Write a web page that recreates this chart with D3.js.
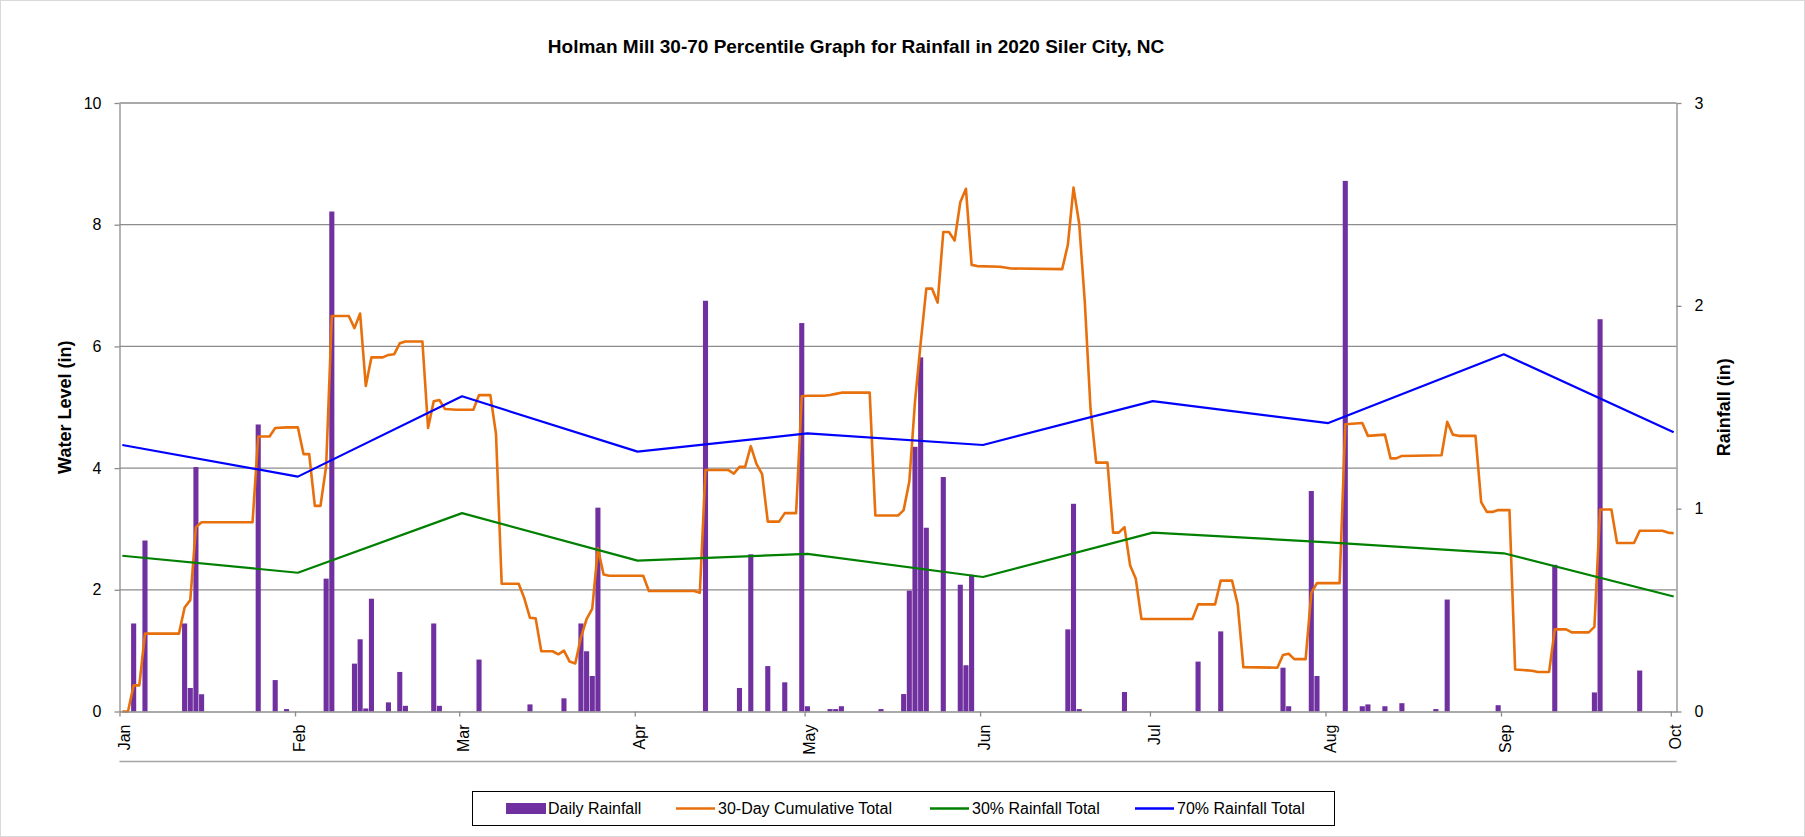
<!DOCTYPE html>
<html>
<head>
<meta charset="utf-8">
<script src="https://cdn.jsdelivr.net/npm/d3@7"></script>
<style>
  body { margin: 0; background: #fff; }
  svg { display: block; font-family: 'Liberation Sans', Arial, sans-serif; }
</style>
</head>
<body>
<div class="chart"></div>
<script>
// daily rainfall (in), day = days after Jan 1 2020
var rainDay = [2, 4, 11, 12, 13, 14, 24, 27, 29, 36, 37, 41, 42, 43, 44, 47, 49, 50, 55, 56,
  63, 72, 78, 81, 82, 83, 84, 103, 109, 111, 114, 117, 120, 121, 125, 126, 127, 134,
  138, 139, 140, 141, 142, 145, 148, 149, 150, 167, 168, 169, 177, 190, 194, 205, 206,
  210, 211, 216, 219, 220, 223, 226, 232, 234, 243, 253, 260, 261, 268]
var rainAmt = [0.434, 0.843, 0.434, 0.116, 1.205, 0.085, 1.415, 0.155, 0.012, 0.655, 2.465,
  0.236, 0.356, 0.015, 0.556, 0.045, 0.195, 0.028, 0.434, 0.028,
  0.256, 0.035, 0.065, 0.434, 0.297, 0.175, 1.005, 2.025, 0.116, 0.775, 0.224, 0.144,
  1.915, 0.026, 0.012, 0.012, 0.026, 0.012,
  0.086, 0.596, 1.305, 1.746, 0.906, 1.156, 0.625, 0.228, 0.674, 0.405, 1.024, 0.012,
  0.096, 0.246, 0.395, 0.216, 0.026,
  1.087, 0.175, 2.616, 0.026, 0.035, 0.026, 0.041, 0.012, 0.552, 0.031, 0.723, 0.094,
  1.934, 0.202]

// 30-day cumulative total (in), corners of the line
var cumDay = [0, 1, 2, 3, 4, 10, 11, 12, 13, 14, 23, 24, 26, 27, 29, 31, 32, 33, 34, 35,
  36, 37, 40, 41, 42, 43, 44, 46, 47, 48, 49, 50, 53, 54, 55, 56, 57, 59, 62, 63, 65, 66,
  67, 70, 71, 72, 73, 74, 76, 77, 78, 79, 80, 81, 82, 83, 84, 85, 86, 92, 93, 101, 102,
  103, 107, 108, 109, 110, 111, 112, 113, 114, 116, 117, 119, 120, 121, 124, 125, 126,
  127, 132, 133, 137, 138, 139, 140, 141, 142, 143, 144, 145, 146, 147, 148, 149, 150,
  151, 155, 157, 166, 167, 168, 169, 170, 171, 172, 174, 175, 176, 177, 178, 179, 180,
  189, 190, 193, 194, 196, 197, 198, 204, 205, 206, 207, 209, 210, 211, 215, 216, 219,
  220, 223, 224, 225, 226, 233, 234, 235, 236, 239, 240, 241, 242, 243, 245, 246, 249,
  250, 252, 253, 255, 256, 259, 260, 261, 263, 264, 267, 268, 272, 273, 274]
var cumTotal = [0, 0, 0.43, 0.43, 1.28, 1.28, 1.71, 1.83, 3.03, 3.11, 3.11, 4.52, 4.52,
  4.66, 4.67, 4.67, 4.23, 4.23, 3.38, 3.38,
  4.03, 6.50, 6.50, 6.30, 6.54, 5.35, 5.82, 5.82, 5.86, 5.87, 6.05, 6.08, 6.08, 4.66, 5.10,
  5.12, 4.97, 4.96, 4.96, 5.20, 5.20, 4.56,
  2.10, 2.10, 1.86, 1.54, 1.53, 0.99, 0.99, 0.94, 1.00, 0.82, 0.79, 1.22, 1.52, 1.69, 2.68,
  2.25, 2.23, 2.23, 1.98, 1.98, 1.95,
  3.97, 3.97, 3.91, 4.02, 4.02, 4.36, 4.07, 3.90, 3.12, 3.12, 3.26, 3.26, 5.18, 5.19, 5.19,
  5.20, 5.22,
  5.24, 5.24, 3.22, 3.22, 3.31, 3.78, 5.09, 6.05, 6.95, 6.95, 6.72, 7.88, 7.88, 7.74, 8.37,
  8.59, 7.34,
  7.32, 7.31, 7.28, 7.27, 7.67, 8.61, 8.02, 6.72, 4.98, 4.09, 4.09, 2.94, 2.94, 3.03, 2.40,
  2.18, 1.52,
  1.52, 1.76, 1.76, 2.15, 2.15, 1.76, 0.73, 0.72, 0.93, 0.95, 0.86, 0.86, 1.95, 2.11, 2.11,
  4.72, 4.74,
  4.53, 4.55, 4.16, 4.16, 4.20, 4.21, 4.76, 4.55, 4.53, 4.53, 3.44, 3.28, 3.28, 3.31, 3.31,
  0.69, 0.67,
  0.65, 0.65, 1.35, 1.35, 1.30, 1.30, 1.39, 3.32, 3.32, 2.77, 2.77, 2.97, 2.97, 2.94, 2.93]

// percentile totals (in) at the start of each month
var pctMonth = [0, 1, 2, 3, 4, 5, 6, 7, 8, 9]
var pct30 = [2.56, 2.28, 3.26, 2.48, 2.59, 2.21, 2.94, 2.78, 2.60, 1.89]
var pct70 = [4.38, 3.86, 5.18, 4.27, 4.57, 4.38, 5.10, 4.74, 5.87, 4.59]

var monthLabels = ['Jan', 'Feb', 'Mar', 'Apr', 'May', 'Jun', 'Jul', 'Aug', 'Sep', 'Oct']
var levelTicks = [0, 2, 4, 6, 8, 10]
var rainTicks = [0, 1, 2, 3]

var W = 1805, H = 837
var plot = { left: 119.5, right: 1676.5, top: 103, bottom: 711.5 }
var grey = '#8c8c8c'

var dayDate = d => new Date(Date.UTC(2020, 0, 1) + d * 864e5)
var monthDate = m => new Date(Date.UTC(2020, m, 1))

var svg = d3.select('.chart').append('svg')
  .attr('width', W)
  .attr('height', H)

svg.append('rect')
  .attr('x', 0.5).attr('y', 0.5)
  .attr('width', W - 1).attr('height', H - 1)
  .attr('fill', '#fff')
  .attr('stroke', '#d9d9d9')

var x = d3.scaleUtc()
  .domain([dayDate(0), dayDate(275)])
  .range([plot.left, plot.right])
var slot = x(dayDate(1)) - x(dayDate(0))

var yLevel = d3.scaleLinear().domain([0, 10]).range([plot.bottom, plot.top])
var yRain = d3.scaleLinear().domain([0, 3]).range([plot.bottom, plot.top])

// gridlines
svg.append('g')
  .selectAll('line')
  .data(levelTicks.slice(1))
  .join('line')
  .attr('x1', plot.left).attr('x2', plot.right)
  .attr('y1', d => yLevel(d)).attr('y2', d => yLevel(d))
  .attr('stroke', grey)
  .attr('stroke-width', 1.3)

// daily rainfall bars
var rain = rainDay.map((d, i) => ({ day: d, amt: rainAmt[i] }))
svg.append('g')
  .selectAll('rect')
  .data(rain)
  .join('rect')
  .attr('x', d => x(dayDate(d.day)) + slot * 0.05)
  .attr('width', slot * 0.9)
  .attr('y', d => yRain(d.amt))
  .attr('height', d => yRain(0) - yRain(d.amt))
  .attr('fill', '#7030a0')

// lines
var cum = cumDay.map((d, i) => ({ t: dayDate(d + 0.5), v: cumTotal[i] }))
var p30 = pctMonth.map((m, i) => ({ t: new Date(+monthDate(m) + 432e5), v: pct30[i] }))
var p70 = pctMonth.map((m, i) => ({ t: new Date(+monthDate(m) + 432e5), v: pct70[i] }))

var line = d3.line()
  .x(d => x(d.t))
  .y(d => yLevel(d.v))

var series = [
  { data: cum, color: '#e8700c', width: 2.6 },
  { data: p30, color: '#008000', width: 2.2 },
  { data: p70, color: '#0000ff', width: 2.2 }
]
series.forEach(s => {
  svg.append('path')
    .datum(s.data)
    .attr('d', line)
    .attr('fill', 'none')
    .attr('stroke', s.color)
    .attr('stroke-width', s.width)
    .attr('stroke-linejoin', 'round')
})

// axes
const styleAxis = g => {
  g.select('.domain').attr('stroke', grey).attr('stroke-width', 1.3)
  g.selectAll('.tick line').attr('stroke', grey).attr('stroke-width', 1.3)
  g.selectAll('.tick text').attr('fill', '#000').style('font-size', '16px')
    .style('font-family', "'Liberation Sans', Arial, sans-serif")
}

svg.append('g')
  .attr('transform', 'translate(' + plot.left + ',0)')
  .call(d3.axisLeft(yLevel).tickValues(levelTicks).tickSize(5).tickSizeOuter(0).tickPadding(13))
  .call(styleAxis)

svg.append('g')
  .attr('transform', 'translate(' + plot.right + ',0)')
  .call(d3.axisRight(yRain).tickValues(rainTicks).tickFormat(d3.format('d'))
    .tickSize(5).tickSizeOuter(0).tickPadding(13))
  .call(styleAxis)

var xAxis = svg.append('g')
  .attr('transform', 'translate(0,' + plot.bottom + ')')
  .call(d3.axisBottom(x)
    .tickValues(pctMonth.map(monthDate))
    .tickFormat((d, i) => monthLabels[i])
    .tickSize(5).tickSizeOuter(0))
  .call(styleAxis)

xAxis.selectAll('.tick text')
  .attr('transform', 'rotate(-90)')
  .attr('text-anchor', 'end')
  .attr('x', -13)
  .attr('y', 0)
  .attr('dy', '0.6em')

// line under the month labels
svg.append('line')
  .attr('x1', plot.left).attr('x2', plot.right)
  .attr('y1', 761.5).attr('y2', 761.5)
  .attr('stroke', '#a6a6a6')
  .attr('stroke-width', 1.3)

// titles
svg.append('text')
  .attr('x', 856).attr('y', 53)
  .attr('text-anchor', 'middle')
  .style('font-size', '19px')
  .style('font-weight', 'bold')
  .text('Holman Mill 30-70 Percentile Graph for Rainfall in 2020 Siler City, NC')

svg.append('text')
  .attr('transform', 'translate(71,' + (plot.top + plot.bottom) / 2 + ') rotate(-90)')
  .attr('text-anchor', 'middle')
  .style('font-size', '18px')
  .style('font-weight', 'bold')
  .text('Water Level (in)')

svg.append('text')
  .attr('transform', 'translate(1730,' + (plot.top + plot.bottom) / 2 + ') rotate(-90)')
  .attr('text-anchor', 'middle')
  .style('font-size', '18px')
  .style('font-weight', 'bold')
  .text('Rainfall (in)')

// legend
var legend = svg.append('g')
legend.append('rect')
  .attr('x', 472.5).attr('y', 791.5)
  .attr('width', 862).attr('height', 34)
  .attr('fill', '#fff')
  .attr('stroke', '#000')
  .attr('stroke-width', 1)

var legendItems = [
  { label: 'Daily Rainfall', color: '#7030a0', x: 506, bar: true },
  { label: '30-Day Cumulative Total', color: '#e8700c', x: 676 },
  { label: '30% Rainfall Total', color: '#008000', x: 930 },
  { label: '70% Rainfall Total', color: '#0000ff', x: 1135 }
]
legendItems.forEach(d => {
  if (d.bar) {
    legend.append('rect')
      .attr('x', d.x).attr('y', 803)
      .attr('width', 40).attr('height', 11)
      .attr('fill', d.color)
  } else {
    legend.append('line')
      .attr('x1', d.x).attr('x2', d.x + 39)
      .attr('y1', 808.5).attr('y2', 808.5)
      .attr('stroke', d.color)
      .attr('stroke-width', 2.6)
  }
  legend.append('text')
    .attr('x', d.x + 42).attr('y', 808.5)
    .attr('dy', '0.35em')
    .style('font-size', '16px')
    .text(d.label)
})
</script>
</body>
</html>
